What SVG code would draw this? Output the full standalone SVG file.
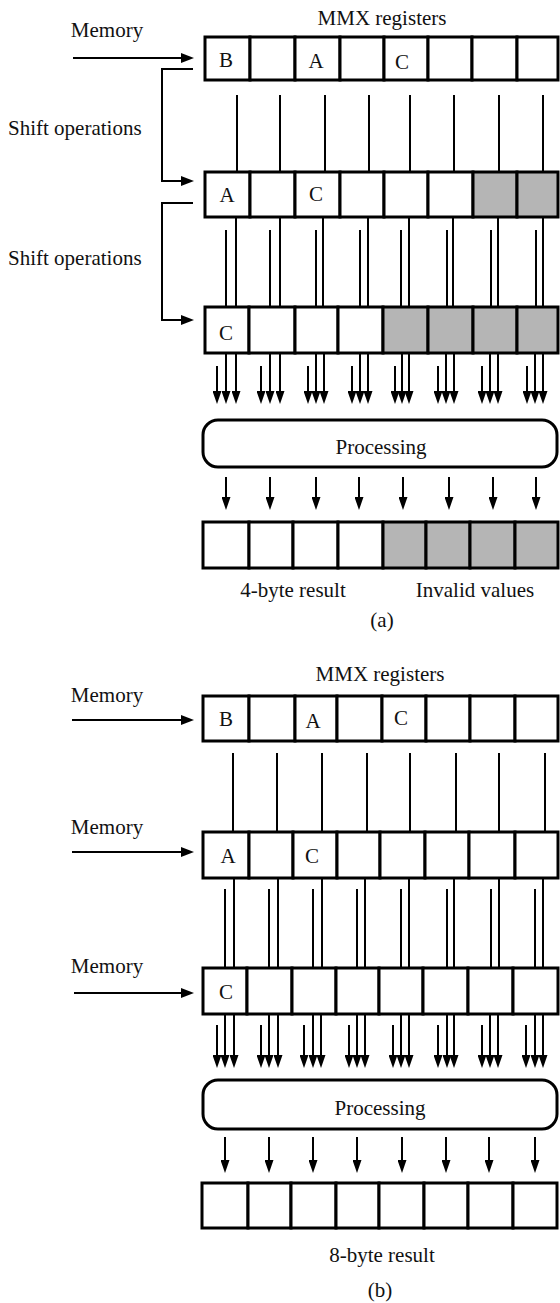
<svg xmlns="http://www.w3.org/2000/svg" width="560" height="1303" viewBox="0 0 560 1303">
<style>
.cell{fill:#fff;stroke:#000;stroke-width:3}
.gr{fill:#b5b5b5}
.proc{fill:#fff;stroke:#000;stroke-width:3}
.t{font-family:"Liberation Serif","Times New Roman",serif;font-size:21px;fill:#111}
.c{text-anchor:middle}
.ln{stroke:#000;stroke-width:2;fill:none}
.sa{stroke:#000;stroke-width:2;fill:none;marker-end:url(#sh)}
.ma{stroke:#000;stroke-width:2;fill:none;marker-end:url(#mh)}
</style>
<defs>
<marker id="sh" markerUnits="userSpaceOnUse" markerWidth="13" markerHeight="9" refX="6" refY="4.5" orient="auto"><path d="M0,0 L13,4.5 L0,9 z" fill="#000"/></marker>
<marker id="mh" markerUnits="userSpaceOnUse" markerWidth="13" markerHeight="10" refX="6" refY="5" orient="auto"><path d="M0,0 L13,5 L0,10 z" fill="#000"/></marker>
</defs>
<rect width="560" height="1303" fill="#fff"/>

<!-- ===== Part (a) ===== -->
<text class="t c" x="382" y="25">MMX registers</text>
<text class="t c" x="107" y="37">Memory</text>
<text class="t" x="8" y="135">Shift operations</text>
<text class="t" x="8" y="265">Shift operations</text>

<g id="regA1">
<rect class="cell" x="205" y="37" width="45" height="43"/>
<rect class="cell" x="250" y="37" width="45" height="43"/>
<rect class="cell" x="295" y="37" width="45" height="43"/>
<rect class="cell" x="340" y="37" width="44" height="43"/>
<rect class="cell" x="384" y="37" width="44" height="43"/>
<rect class="cell" x="428" y="37" width="44" height="43"/>
<rect class="cell" x="472" y="37" width="45" height="43"/>
<rect class="cell" x="517" y="37" width="41" height="43"/>
<text class="t c" x="226" y="67">B</text>
<text class="t c" x="316" y="68">A</text>
<text class="t c" x="402" y="69">C</text>
</g>

<g id="regA2">
<rect class="cell" x="205" y="172" width="45" height="45"/>
<rect class="cell" x="250" y="172" width="45" height="45"/>
<rect class="cell" x="295" y="172" width="45" height="45"/>
<rect class="cell" x="340" y="172" width="44" height="45"/>
<rect class="cell" x="384" y="172" width="44" height="45"/>
<rect class="cell" x="428" y="172" width="45" height="45"/>
<rect class="cell gr" x="473" y="172" width="44" height="45"/>
<rect class="cell gr" x="517" y="172" width="41" height="45"/>
<text class="t c" x="227" y="202">A</text>
<text class="t c" x="316" y="201">C</text>
</g>

<g id="regA3">
<rect class="cell" x="205" y="307" width="44" height="46"/>
<rect class="cell" x="249" y="307" width="46" height="46"/>
<rect class="cell" x="295" y="307" width="43" height="46"/>
<rect class="cell" x="338" y="307" width="45" height="46"/>
<rect class="cell gr" x="383" y="307" width="45" height="46"/>
<rect class="cell gr" x="428" y="307" width="45" height="46"/>
<rect class="cell gr" x="473" y="307" width="44" height="46"/>
<rect class="cell gr" x="517" y="307" width="41" height="46"/>
<text class="t c" x="226" y="340">C</text>
</g>

<g id="procA">
<rect class="proc" x="203" y="420" width="354" height="47" rx="15"/>
<text class="t c" x="381" y="454">Processing</text>
</g>

<g id="resA">
<rect class="cell" x="203" y="522" width="46" height="46"/>
<rect class="cell" x="249" y="522" width="44" height="46"/>
<rect class="cell" x="293" y="522" width="45" height="46"/>
<rect class="cell" x="338" y="522" width="45" height="46"/>
<rect class="cell gr" x="383" y="522" width="43" height="46"/>
<rect class="cell gr" x="426" y="522" width="44" height="46"/>
<rect class="cell gr" x="470" y="522" width="45" height="46"/>
<rect class="cell gr" x="515" y="522" width="43" height="46"/>
</g>
<text class="t c" x="293" y="597">4-byte result</text>
<text class="t c" x="475" y="597">Invalid values</text>
<text class="t c" x="382" y="627">(a)</text>

<g id="connA">
<path class="ma" d="M73,58 H187"/>
<path class="ma" d="M193,69 H162 V181 H187"/>
<path class="ma" d="M193,203 H162 V320 H187"/>
<path class="ln" d="M237,95V172 M280,95V172 M325,95V172 M369,95V172 M410,95V172 M454,95V172 M499,95V172 M543,95V172"/>
<path class="ln" d="M236,217V307 M280,217V307 M323,217V307 M368,217V307 M409,217V307 M453,217V307 M498,217V307 M543,217V307"/>
<path class="ln" d="M226,230V307 M270,230V307 M316,230V307 M360,230V307 M401,230V307 M447,230V307 M491,230V307 M536,230V307"/>
<path class="sa" d="M217,366V397"/><path class="sa" d="M226,353V397"/><path class="sa" d="M236,353V397"/>
<path class="sa" d="M261,366V397"/><path class="sa" d="M270,353V397"/><path class="sa" d="M280,353V397"/>
<path class="sa" d="M308,366V397"/><path class="sa" d="M316,353V397"/><path class="sa" d="M324,353V397"/>
<path class="sa" d="M352,366V397"/><path class="sa" d="M360,353V397"/><path class="sa" d="M368,353V397"/>
<path class="sa" d="M395,366V397"/><path class="sa" d="M402,353V397"/><path class="sa" d="M409,353V397"/>
<path class="sa" d="M438,366V397"/><path class="sa" d="M446,353V397"/><path class="sa" d="M454,353V397"/>
<path class="sa" d="M482,366V397"/><path class="sa" d="M490,353V397"/><path class="sa" d="M498,353V397"/>
<path class="sa" d="M527,366V397"/><path class="sa" d="M535,353V397"/><path class="sa" d="M543,353V397"/>
<path class="sa" d="M226,477V503"/><path class="sa" d="M270,477V503"/><path class="sa" d="M316,477V503"/><path class="sa" d="M359,477V503"/>
<path class="sa" d="M403,477V503"/><path class="sa" d="M449,477V503"/><path class="sa" d="M493,477V503"/><path class="sa" d="M536,477V503"/>
</g>

<!-- ===== Part (b) ===== -->
<text class="t c" x="380" y="681">MMX registers</text>
<text class="t c" x="107" y="702">Memory</text>
<text class="t c" x="107" y="834">Memory</text>
<text class="t c" x="107" y="973">Memory</text>

<g id="regB1">
<rect class="cell" x="203" y="696" width="46" height="45"/>
<rect class="cell" x="249" y="696" width="46" height="45"/>
<rect class="cell" x="295" y="696" width="42" height="45"/>
<rect class="cell" x="337" y="696" width="45" height="45"/>
<rect class="cell" x="382" y="696" width="44" height="45"/>
<rect class="cell" x="426" y="696" width="44" height="45"/>
<rect class="cell" x="470" y="696" width="45" height="45"/>
<rect class="cell" x="515" y="696" width="43" height="45"/>
<text class="t c" x="226" y="726">B</text>
<text class="t c" x="313" y="728">A</text>
<text class="t c" x="401" y="725">C</text>
</g>

<g id="regB2">
<rect class="cell" x="203" y="832" width="46" height="46"/>
<rect class="cell" x="249" y="832" width="44" height="46"/>
<rect class="cell" x="293" y="832" width="44" height="46"/>
<rect class="cell" x="337" y="832" width="43" height="46"/>
<rect class="cell" x="380" y="832" width="45" height="46"/>
<rect class="cell" x="425" y="832" width="44" height="46"/>
<rect class="cell" x="469" y="832" width="46" height="46"/>
<rect class="cell" x="515" y="832" width="43" height="46"/>
<text class="t c" x="228" y="863">A</text>
<text class="t c" x="312" y="863">C</text>
</g>

<g id="regB3">
<rect class="cell" x="203" y="968" width="44" height="46"/>
<rect class="cell" x="247" y="968" width="45" height="46"/>
<rect class="cell" x="292" y="968" width="44" height="46"/>
<rect class="cell" x="336" y="968" width="43" height="46"/>
<rect class="cell" x="379" y="968" width="44" height="46"/>
<rect class="cell" x="423" y="968" width="45" height="46"/>
<rect class="cell" x="468" y="968" width="45" height="46"/>
<rect class="cell" x="513" y="968" width="45" height="46"/>
<text class="t c" x="226" y="999">C</text>
</g>

<g id="procB">
<rect class="proc" x="203" y="1080" width="354" height="49" rx="15"/>
<text class="t c" x="380" y="1115">Processing</text>
</g>

<g id="resB">
<rect class="cell" x="202" y="1183" width="46" height="45"/>
<rect class="cell" x="248" y="1183" width="43" height="45"/>
<rect class="cell" x="291" y="1183" width="45" height="45"/>
<rect class="cell" x="336" y="1183" width="43" height="45"/>
<rect class="cell" x="379" y="1183" width="45" height="45"/>
<rect class="cell" x="424" y="1183" width="44" height="45"/>
<rect class="cell" x="468" y="1183" width="45" height="45"/>
<rect class="cell" x="513" y="1183" width="44" height="45"/>
</g>
<text class="t c" x="382" y="1262">8-byte result</text>
<text class="t c" x="380" y="1297">(b)</text>

<g id="connB">
<path class="ma" d="M72,720 H187"/>
<path class="ma" d="M72,852 H187"/>
<path class="ma" d="M74,993 H187"/>
<path class="ln" d="M233,753V832 M277,753V832 M322,753V832 M367,753V832 M410,753V832 M456,753V832 M499,753V832 M545,753V832"/>
<path class="ln" d="M234,878V968 M278,878V968 M322,878V968 M365,878V968 M409,878V968 M454,878V968 M499,878V968 M543,878V968"/>
<path class="ln" d="M225,889V968 M269,889V968 M313,889V968 M357,889V968 M401,889V968 M447,889V968 M491,889V968 M535,889V968"/>
<path class="sa" d="M217,1025V1061"/><path class="sa" d="M225,1014V1061"/><path class="sa" d="M234,1014V1061"/>
<path class="sa" d="M261,1025V1061"/><path class="sa" d="M269,1014V1061"/><path class="sa" d="M278,1014V1061"/>
<path class="sa" d="M304,1025V1061"/><path class="sa" d="M313,1014V1061"/><path class="sa" d="M321,1014V1061"/>
<path class="sa" d="M349,1025V1061"/><path class="sa" d="M357,1014V1061"/><path class="sa" d="M365,1014V1061"/>
<path class="sa" d="M393,1025V1061"/><path class="sa" d="M401,1014V1061"/><path class="sa" d="M409,1014V1061"/>
<path class="sa" d="M438,1025V1061"/><path class="sa" d="M447,1014V1061"/><path class="sa" d="M454,1014V1061"/>
<path class="sa" d="M482,1025V1061"/><path class="sa" d="M490,1014V1061"/><path class="sa" d="M498,1014V1061"/>
<path class="sa" d="M526,1025V1061"/><path class="sa" d="M535,1014V1061"/><path class="sa" d="M543,1014V1061"/>
<path class="sa" d="M225,1137V1166"/><path class="sa" d="M269,1137V1166"/><path class="sa" d="M313,1137V1166"/><path class="sa" d="M357,1137V1166"/>
<path class="sa" d="M402,1137V1166"/><path class="sa" d="M446,1137V1166"/><path class="sa" d="M489,1137V1166"/><path class="sa" d="M535,1137V1166"/>
</g>
</svg>
